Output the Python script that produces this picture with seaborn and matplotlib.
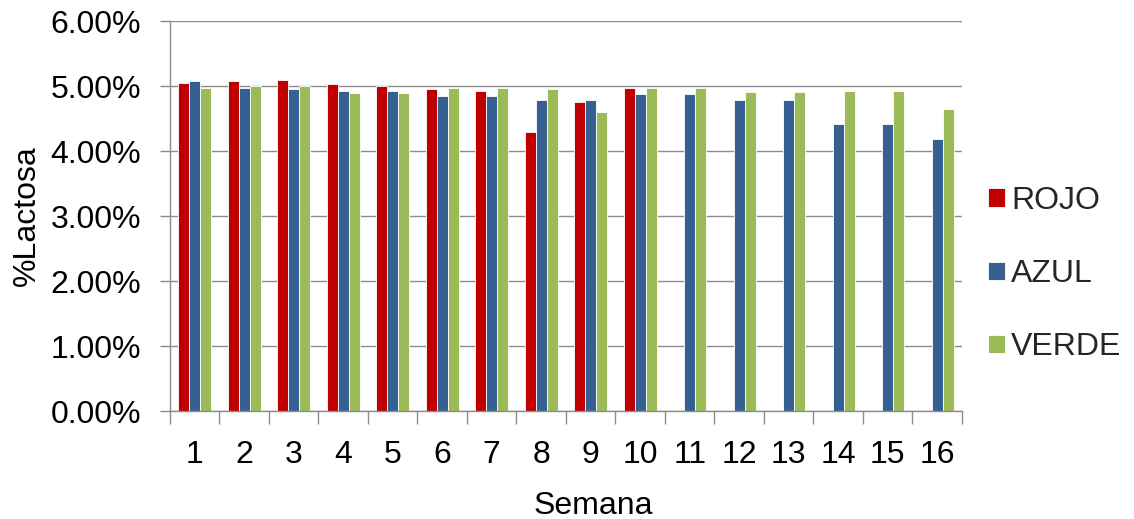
import numpy as np
import pandas as pd
import matplotlib
matplotlib.use("Agg")
import matplotlib.pyplot as plt
from matplotlib.ticker import FuncFormatter, FixedLocator
import seaborn as sns

semanas = [str(i) for i in range(1, 17)]
rojo = [5.05, 5.07, 5.09, 5.03, 5.00, 4.95, 4.93, 4.30, 4.75, 4.97,
        np.nan, np.nan, np.nan, np.nan, np.nan, np.nan]
azul = [5.07, 4.97, 4.95, 4.92, 4.92, 4.84, 4.84, 4.79, 4.79, 4.87,
        4.87, 4.78, 4.78, 4.42, 4.42, 4.18]
verde = [4.97, 5.00, 5.00, 4.90, 4.90, 4.97, 4.97, 4.95, 4.60, 4.97,
         4.97, 4.91, 4.91, 4.93, 4.93, 4.64]
series = ["ROJO", "AZUL", "VERDE"]
colores = ["#C00000", "#376092", "#9BBB59"]

df = pd.DataFrame({"Semana": semanas, "ROJO": rojo, "AZUL": azul, "VERDE": verde})
df_long = df.melt(id_vars="Semana", var_name="Grupo", value_name="Lactosa")

sns.set_theme(style="white")
plt.rcParams["font.family"] = ["Liberation Sans", "DejaVu Sans"]
FS = 23

fig = plt.figure(figsize=(11.34, 5.19), dpi=100)
ax = fig.add_axes([0.1499, 0.208, 0.6984, 0.7515])

sns.barplot(data=df_long, x="Semana", y="Lactosa", hue="Grupo",
            hue_order=series, palette=colores, order=semanas,
            width=0.67, saturation=1, errorbar=None, ax=ax,
            edgecolor="white", linewidth=0.6)

ax.set_ylim(0, 6)
ax.set_xlim(-0.5, 15.5)
ax.yaxis.set_major_locator(FixedLocator([0, 1, 2, 3, 4, 5, 6]))
ax.yaxis.set_major_formatter(FuncFormatter(lambda v, p: f"{v:.2f}%"))
ax.grid(axis="y", color="#8C8C8C", linewidth=1.0)
ax.set_axisbelow(True)

for side in ["top", "right"]:
    ax.spines[side].set_visible(False)
for side in ["left", "bottom"]:
    ax.spines[side].set_color("#8C8C8C")
    ax.spines[side].set_linewidth(1.0)

ax.tick_params(axis="y", which="major", left=True, length=7, width=1,
               color="#8C8C8C", labelsize=FS, labelcolor="black", pad=14)
ax.tick_params(axis="x", which="major", bottom=False, labelsize=FS,
               labelcolor="black", pad=15)
ax.xaxis.set_minor_locator(FixedLocator(np.arange(-0.5, 16, 1)))
ax.tick_params(axis="x", which="minor", bottom=True, length=9, width=1,
               color="#8C8C8C")

ax.set_xlabel("Semana", fontsize=FS, color="black")
ax.xaxis.set_label_coords(0.534, -0.205)
ax.set_ylabel("%Lactosa", fontsize=FS, color="black", labelpad=6)

leg = ax.legend(loc="center left", bbox_to_anchor=(0.997, 0.351), frameon=False,
                fontsize=FS, handlelength=0.52, handleheight=0.52,
                handletextpad=0.2, labelspacing=1.35)
for h in leg.legend_handles:
    h.set_edgecolor("white")

fig.savefig("out.png", dpi=100, facecolor="white")
